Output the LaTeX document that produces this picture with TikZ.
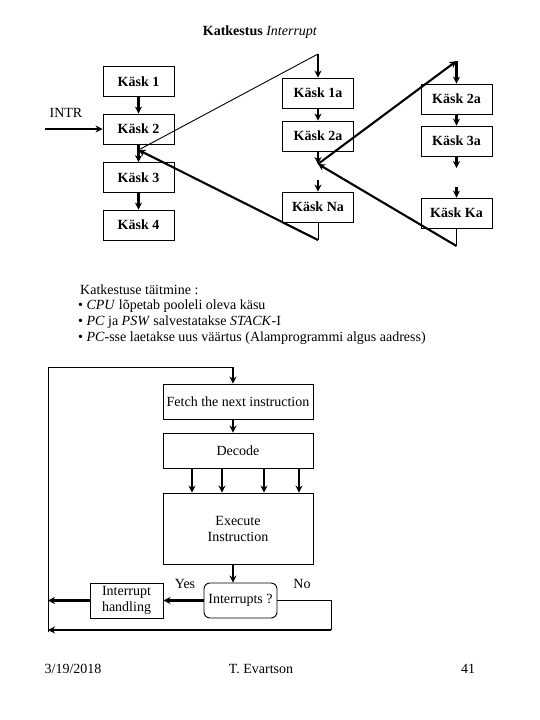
\documentclass[tikz,border=0pt]{standalone}
\usepackage{fontspec}
\setmainfont{Liberation Serif}
\usetikzlibrary{positioning,calc,arrows.meta}

\tikzset{
  kask/.style={draw,line width=0.9pt,minimum width=71pt,minimum height=30pt,inner sep=0pt,font=\fontsize{14}{16}\selectfont\bfseries},
  flowbox/.style={draw,line width=0.9pt,minimum width=150pt,inner sep=0pt,align=center,font=\fontsize{14}{16}\selectfont},
  smallbox/.style={draw,line width=0.9pt,minimum width=73pt,minimum height=35pt,inner sep=0pt,align=center,font=\fontsize{14}{16}\selectfont},
  arr/.style={line width=2.1pt,-{Stealth[length=7pt,width=7pt]}},
  thickline/.style={line width=2.1pt},
  thinline/.style={line width=0.9pt},
  txt/.style={font=\fontsize{14}{16}\selectfont,inner sep=0pt}
}

\begin{document}
\begin{tikzpicture}[x=1pt,y=-1pt]
    \useasboundingbox[fill=white] (0,0) rectangle (540,720);

    % Title
    \node[txt] (title) at (260,32) {\textbf{Katkestus} \textit{Interrupt}};

    % Main program
    \node[kask] (k1) at (138.5,81.5) {Käsk 1};
    \node[kask] (k2) at (138.5,129) {Käsk 2};
    \node[kask] (k3) at (138.5,177.5) {Käsk 3};
    \node[kask] (k4) at (138.5,225) {Käsk 4};
    \node[txt] (intr) at (66,113) {INTR};
    \coordinate (intrin) at (45,129);
    \draw[arr] (intrin) -- (k2.west);
    \draw[arr] (k1) -- (k2);
    \draw[arr] (k2) -- (k3);
    \draw[arr] (k3) -- (k4);

    % First subroutine
    \node[kask] (k1a) at (318,93) {Käsk 1a};
    \node[kask] (k2a) at (318,136) {Käsk 2a};
    \node[kask] (kna) at (318,207) {Käsk Na};
    \coordinate (ret1) at (138.5,150);
    \coordinate (top1) at (318,54);
    \coordinate (mid1) at (318,164);
    \coordinate (gap1) at (318,180);
    \coordinate (bot1) at (318,240);
    \draw[thinline] (ret1) -- (top1);
    \draw[arr] (top1) -- (k1a.north);
    \draw[arr] (k1a) -- (k2a);
    \draw[arr] (k2a.south) -- (mid1);
    \draw[arr] (gap1) -- (kna.north);
    \draw[thinline] (kna.south) -- (bot1);
    \draw[arr] (bot1) -- (ret1);

    % Second subroutine
    \node[kask] (r2a) at (456.5,99) {Käsk 2a};
    \node[kask] (r3a) at (456.5,141) {Käsk 3a};
    \node[kask] (rka) at (456.5,213) {Käsk Ka};
    \coordinate (top2) at (456.5,61);
    \coordinate (end2) at (456.5,168);
    \coordinate (gap2) at (456.5,187);
    \coordinate (bot2) at (456.5,246);
    \draw[arr] (mid1) -- (top2);
    \draw[arr] (top2) -- (r2a.north);
    \draw[arr] (r2a) -- (r3a);
    \draw[arr] (r3a.south) -- (end2);
    \draw[arr] (gap2) -- (rka.north);
    \draw[thinline] (rka.south) -- (bot2);
    \draw[arr] (bot2) -- (mid1);

    % Interrupt handling steps
    \node[txt,anchor=west] (t0) at (80,290) {Katkestuse täitmine :};
    \node[txt,anchor=west] (t1) at (78,306) {• \textit{CPU} lõpetab pooleli oleva käsu};
    \node[txt,anchor=west] (t2) at (78,322) {• \textit{PC} ja \textit{PSW} salvestatakse \textit{STACK}-I};
    \node[txt,anchor=west] (t3) at (78,338) {• \textit{PC}-sse laetakse uus väärtus (Alamprogrammi algus aadress)};

    % Instruction cycle
    \node[flowbox,minimum height=35pt] (fetch) at (238,401.5) {Fetch the next instruction};
    \node[flowbox,minimum height=35pt] (decode) at (238,450.5) {Decode};
    \node[flowbox,minimum height=71pt] (exec) at (238,528.5) {Execute\\Instruction};
    \node[smallbox,rounded corners=6pt] (intq) at (240.5,600.5) {Interrupts ?};
    \node[smallbox] (ih) at (126.5,600.5) {Interrupt\\handling};
    \node[txt] (yes) at (185,584) {Yes};
    \node[txt] (no) at (302,584) {No};
    \coordinate (axis) at (233,0);
    \coordinate (looptop) at (48,367);
    \coordinate (loopbot) at (48,632);
    \coordinate (loopin) at (48,630);
    \coordinate (ihout) at (48,600.5);
    \coordinate (noright) at (331,600.5);
    \coordinate (nodown) at (331,630);
    \draw[thinline] (loopbot) -- (looptop) -- (looptop -| axis);
    \draw[arr] (looptop -| axis) -- (fetch.north -| axis);
    \draw[arr] (fetch.south -| axis) -- (decode.north -| axis);
    \foreach \xd in {192,222,264,299}
        \draw[arr] (decode.south -| \xd,0) -- (exec.north -| \xd,0);
    \draw[arr] (exec.south -| axis) -- (intq.north -| axis);
    \draw[arr] (intq.west) -- (ih.east);
    \draw[arr] (ih.west) -- (ihout);
    \draw[thinline] (intq.east) -- (noright) -- (nodown);
    \draw[arr] (nodown) -- (loopin);

    % Footer
    \node[txt] (date) at (73,669) {3/19/2018};
    \node[txt] (author) at (261,669) {T. Evartson};
    \node[txt] (page) at (468,669) {41};
\end{tikzpicture}
\end{document}
